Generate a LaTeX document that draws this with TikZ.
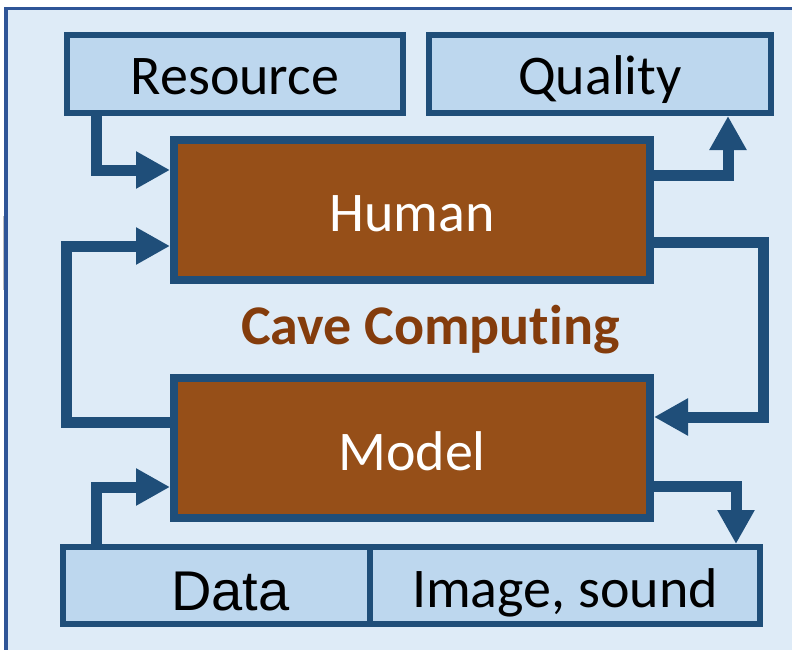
\documentclass[tikz,border=0pt]{standalone}
\usepackage{fontspec}
\setmainfont{Carlito}[Ligatures=NoCommon]
\newfontfamily\arialfont{Liberation Sans}
\usetikzlibrary{arrows.meta}
\definecolor{bgblue}{HTML}{DEEBF7}
\definecolor{boxblue}{HTML}{BDD7EE}
\definecolor{edgeblue}{HTML}{1F4E79}
\definecolor{frameblue}{HTML}{2F5597}
\definecolor{brownfill}{HTML}{964F18}
\definecolor{browntext}{HTML}{843C0C}
\tikzset{
  lightbox/.style={draw=edgeblue, fill=boxblue, line width=6pt, inner sep=0pt,
    text height=42pt, text depth=0pt, font=\fontsize{56}{62}\selectfont},
  brownbox/.style={draw=edgeblue, fill=brownfill, line width=8pt, inner sep=0pt,
    minimum width=476pt, minimum height=140pt, text=white,
    text height=42pt, text depth=0pt, font=\fontsize{56}{62}\selectfont},
  conn/.style={draw=edgeblue, line width=11pt, line join=miter,
    -{Triangle[length=34pt,width=35pt]}}
}
\begin{document}
\begin{tikzpicture}[x=1pt,y=-1pt]
\useasboundingbox (0,0) rectangle (792,650);
% background frame
\fill[bgblue] (5,7) rectangle (792,650);
\draw[frameblue, line width=3.5pt] (6,650) -- (6,8.5) -- (792,8.5);
\draw[gray!50, line width=1pt] (3,216) -- (3,290);
% boxes
\node[lightbox, minimum width=336pt, minimum height=78pt] (res) at (235,74) {Resource};
\node[lightbox, minimum width=342pt, minimum height=78pt] (qual) at (600,74) {Quality};
\node[brownbox] (hum) at (412,210) {Human};
\node[brownbox, text height=44pt] (mod) at (412,448) {Model};
\node[lightbox, minimum width=307pt, minimum height=77pt, text height=49pt,
  font=\arialfont\fontsize{56}{62}\selectfont] (data) at (216.5,585.5) {\hspace*{28pt}Data};
\node[lightbox, minimum width=390pt, minimum height=77pt, text height=43pt] (img) at (565,585.5) {Image, sound};
\node[text=browntext, font=\bfseries\fontsize{56}{62}\selectfont, inner sep=0pt,
  anchor=base] (cave) at (430.5,344) {Cave Computing};
% connectors
\draw[conn] ([xshift=32pt]res.south west) |- ([yshift=-34pt]hum.north west);
\draw[conn] ([yshift=-48pt]mod.north west) -- ++(-104,0) |- ([yshift=-110pt]hum.north west);
\draw[conn] ([xshift=36pt]data.north west) |- ([yshift=-113pt]mod.north west);
\draw[conn] ([yshift=-39pt]hum.north east) -| ([xshift=-46pt]qual.south east);
\draw[conn] ([yshift=-106pt]hum.north east) -- ++(109,0) |- ([yshift=-43pt]mod.north east);
\draw[conn] ([yshift=-112pt]mod.north east) -| ([xshift=-27pt]img.north east);
\end{tikzpicture}
\end{document}
